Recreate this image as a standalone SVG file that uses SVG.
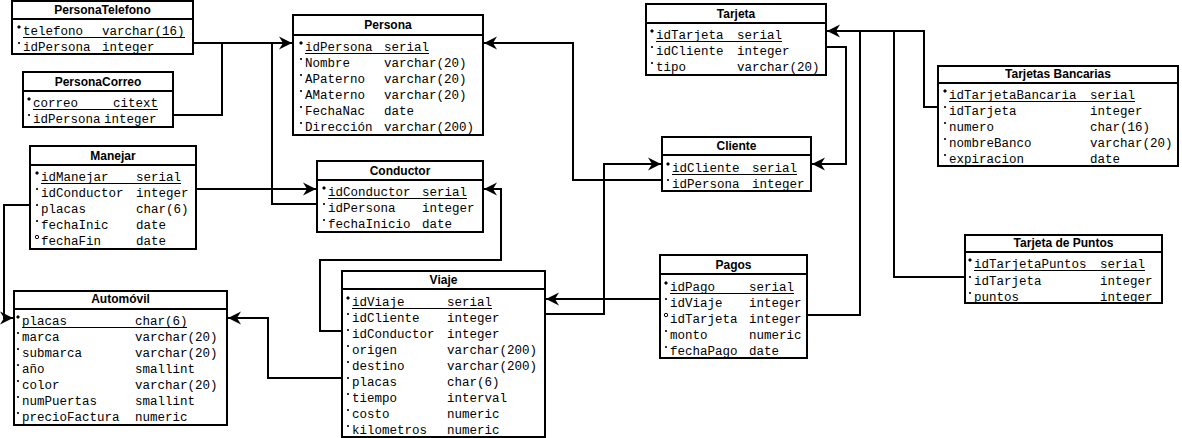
<svg xmlns="http://www.w3.org/2000/svg" width="1182" height="438" viewBox="0 0 1182 438">
  <style>
    .box { fill: #fff; stroke: #000; stroke-width: 2; }
    .sep { stroke: #000; stroke-width: 2; }
    .hd { font-family: "Liberation Sans", Arial, sans-serif; font-weight: bold; font-size: 12px; text-anchor: middle; fill: #000; }
    .f { font-family: "Liberation Mono", "Courier New", monospace; font-size: 12.5px; fill: #000; }
    .ul { stroke: #000; stroke-width: 1; }
    .conn path { fill: none; stroke: #000; stroke-width: 2; }
    .pk { fill: #000; }
    .nn { fill: #000; }
    .nl { fill: none; stroke: #000; stroke-width: 1; }
  </style>
  <defs>
    <marker id="arrow" viewBox="-14 -8 15 16" refX="0" refY="0" markerWidth="15" markerHeight="16" markerUnits="userSpaceOnUse" orient="auto">
      <path d="M0,0 L-13,-6.5 L-9,0 L-13,6.5 Z" fill="#000"/>
    </marker>
    <!-- field markers: primary key, not null, nullable -->
    <path id="mk-pk" d="M0,-2 L2,0 L0,2 L-2,0 Z" class="pk"/>
    <circle id="mk-nn" r="1.1" class="nn"/>
    <circle id="mk-nl" r="1.7" class="nl"/>
  </defs>

  <!-- relationships -->
  <g id="connectors" class="conn">
    <path d="M193,43 H292" marker-end="url(#arrow)"/>
    <path d="M173,115 H222 V43"/>
    <path d="M317,204 H272 V43"/>
    <path d="M662,180 H573 V43 H484" marker-end="url(#arrow)"/>
    <path d="M196,189 H316" marker-end="url(#arrow)"/>
    <path d="M342,331 H320 V260 H501 V189 H484" marker-end="url(#arrow)"/>
    <path d="M30,205 H4 V318 H13" marker-end="url(#arrow)"/>
    <path d="M342,378 H268 V318 H228" marker-end="url(#arrow)"/>
    <path d="M545,314 H604 V164 H661" marker-end="url(#arrow)"/>
    <path d="M660,299 H546" marker-end="url(#arrow)"/>
    <path d="M807,315 H860 V31 H827" marker-end="url(#arrow)"/>
    <path d="M826,47 H846 V164 H812" marker-end="url(#arrow)"/>
    <path d="M938,107 H924 V31 H860"/>
    <path d="M965,277 H894 V31"/>
  </g>

  <g id="PersonaTelefono">
    <rect class="box" x="12" y="1" width="181" height="53"/>
    <line class="sep" x1="12" y1="19" x2="193" y2="19"/>
    <text class="hd" x="102.5" y="14">PersonaTelefono</text>
    <use href="#mk-pk" x="19" y="27"/><text class="f" x="23" y="35">telefono</text><text class="f" x="102" y="35">varchar(16)</text>
    <line class="ul" x1="23" y1="37.5" x2="185" y2="37.5"/>
    <use href="#mk-nn" x="19" y="43"/><text class="f" x="23" y="51">idPersona</text><text class="f" x="102" y="51">integer</text>
  </g>

  <g id="PersonaCorreo">
    <rect class="box" x="23" y="72" width="150" height="55"/>
    <line class="sep" x1="23" y1="91" x2="173" y2="91"/>
    <text class="hd" x="98" y="86">PersonaCorreo</text>
    <use href="#mk-pk" x="29" y="99"/><text class="f" x="33" y="107">correo</text><text class="f" x="113" y="107">citext</text>
    <line class="ul" x1="33" y1="109.5" x2="158" y2="109.5"/>
    <use href="#mk-nn" x="29" y="115"/><text class="f" x="33" y="123">idPersona</text><text class="f" x="104" y="123">integer</text>
  </g>

  <g id="Persona">
    <rect class="box" x="293" y="15" width="190" height="120"/>
    <line class="sep" x1="293" y1="35" x2="483" y2="35"/>
    <text class="hd" x="388" y="29">Persona</text>
    <use href="#mk-pk" x="301" y="43"/><text class="f" x="305" y="51">idPersona</text><text class="f" x="384" y="51">serial</text>
    <line class="ul" x1="305" y1="53.5" x2="429" y2="53.5"/>
    <use href="#mk-nn" x="301" y="59"/><text class="f" x="305" y="67">Nombre</text><text class="f" x="384" y="67">varchar(20)</text>
    <use href="#mk-nn" x="301" y="75"/><text class="f" x="305" y="83">APaterno</text><text class="f" x="384" y="83">varchar(20)</text>
    <use href="#mk-nn" x="301" y="91"/><text class="f" x="305" y="99">AMaterno</text><text class="f" x="384" y="99">varchar(20)</text>
    <use href="#mk-nn" x="301" y="107"/><text class="f" x="305" y="115">FechaNac</text><text class="f" x="384" y="115">date</text>
    <use href="#mk-nn" x="301" y="123"/><text class="f" x="305" y="131">Dirección</text><text class="f" x="384" y="131">varchar(200)</text>
  </g>

  <g id="Manejar">
    <rect class="box" x="30" y="146" width="166" height="103"/>
    <line class="sep" x1="30" y1="165" x2="196" y2="165"/>
    <text class="hd" x="113" y="160">Manejar</text>
    <use href="#mk-pk" x="37" y="173"/><text class="f" x="41" y="181">idManejar</text><text class="f" x="136" y="181">serial</text>
    <line class="ul" x1="41" y1="183.5" x2="181" y2="183.5"/>
    <use href="#mk-nn" x="37" y="189"/><text class="f" x="41" y="197">idConductor</text><text class="f" x="136" y="197">integer</text>
    <use href="#mk-nn" x="37" y="205"/><text class="f" x="41" y="213">placas</text><text class="f" x="136" y="213">char(6)</text>
    <use href="#mk-nn" x="37" y="221"/><text class="f" x="41" y="229">fechaInic</text><text class="f" x="136" y="229">date</text>
    <use href="#mk-nl" x="37" y="237"/><text class="f" x="41" y="245">fechaFin</text><text class="f" x="136" y="245">date</text>
  </g>

  <g id="Conductor">
    <rect class="box" x="317" y="161" width="166" height="71"/>
    <line class="sep" x1="317" y1="180" x2="483" y2="180"/>
    <text class="hd" x="400" y="175">Conductor</text>
    <use href="#mk-pk" x="324" y="188"/><text class="f" x="328" y="196">idConductor</text><text class="f" x="422" y="196">serial</text>
    <line class="ul" x1="328" y1="198.5" x2="467" y2="198.5"/>
    <use href="#mk-nn" x="324" y="204"/><text class="f" x="328" y="212">idPersona</text><text class="f" x="422" y="212">integer</text>
    <use href="#mk-nn" x="324" y="220"/><text class="f" x="328" y="228">fechaInicio</text><text class="f" x="422" y="228">date</text>
  </g>

  <g id="Automovil">
    <rect class="box" x="14" y="291" width="213" height="134"/>
    <line class="sep" x1="14" y1="309" x2="227" y2="309"/>
    <text class="hd" x="120.5" y="303">Automóvil</text>
    <use href="#mk-pk" x="18" y="317"/><text class="f" x="22" y="325">placas</text><text class="f" x="135" y="325">char(6)</text>
    <line class="ul" x1="22" y1="327.5" x2="187" y2="327.5"/>
    <use href="#mk-nn" x="18" y="333"/><text class="f" x="22" y="341">marca</text><text class="f" x="135" y="341">varchar(20)</text>
    <use href="#mk-nn" x="18" y="349"/><text class="f" x="22" y="357">submarca</text><text class="f" x="135" y="357">varchar(20)</text>
    <use href="#mk-nn" x="18" y="365"/><text class="f" x="22" y="373">año</text><text class="f" x="135" y="373">smallint</text>
    <use href="#mk-nn" x="18" y="381"/><text class="f" x="22" y="389">color</text><text class="f" x="135" y="389">varchar(20)</text>
    <use href="#mk-nn" x="18" y="397"/><text class="f" x="22" y="405">numPuertas</text><text class="f" x="135" y="405">smallint</text>
    <use href="#mk-nn" x="18" y="413"/><text class="f" x="22" y="421">precioFactura</text><text class="f" x="135" y="421">numeric</text>
  </g>

  <g id="Viaje">
    <rect class="box" x="342" y="271" width="203" height="166"/>
    <line class="sep" x1="342" y1="289" x2="545" y2="289"/>
    <text class="hd" x="443.5" y="284">Viaje</text>
    <use href="#mk-pk" x="348" y="298"/><text class="f" x="352" y="306">idViaje</text><text class="f" x="447" y="306">serial</text>
    <line class="ul" x1="352" y1="308.5" x2="492" y2="308.5"/>
    <use href="#mk-nn" x="348" y="314"/><text class="f" x="352" y="322">idCliente</text><text class="f" x="447" y="322">integer</text>
    <use href="#mk-nn" x="348" y="330"/><text class="f" x="352" y="338">idConductor</text><text class="f" x="447" y="338">integer</text>
    <use href="#mk-nn" x="348" y="346"/><text class="f" x="352" y="354">origen</text><text class="f" x="447" y="354">varchar(200)</text>
    <use href="#mk-nn" x="348" y="362"/><text class="f" x="352" y="370">destino</text><text class="f" x="447" y="370">varchar(200)</text>
    <use href="#mk-nn" x="348" y="378"/><text class="f" x="352" y="386">placas</text><text class="f" x="447" y="386">char(6)</text>
    <use href="#mk-nn" x="348" y="394"/><text class="f" x="352" y="402">tiempo</text><text class="f" x="447" y="402">interval</text>
    <use href="#mk-nn" x="348" y="410"/><text class="f" x="352" y="418">costo</text><text class="f" x="447" y="418">numeric</text>
    <use href="#mk-nn" x="348" y="426"/><text class="f" x="352" y="434">kilometros</text><text class="f" x="447" y="434">numeric</text>
  </g>

  <g id="Tarjeta">
    <rect class="box" x="646" y="4" width="180" height="71"/>
    <line class="sep" x1="646" y1="23" x2="826" y2="23"/>
    <text class="hd" x="736" y="18">Tarjeta</text>
    <use href="#mk-pk" x="652" y="31"/><text class="f" x="656" y="39">idTarjeta</text><text class="f" x="737" y="39">serial</text>
    <line class="ul" x1="656" y1="41.5" x2="782" y2="41.5"/>
    <use href="#mk-nn" x="652" y="47"/><text class="f" x="656" y="55">idCliente</text><text class="f" x="737" y="55">integer</text>
    <use href="#mk-nn" x="652" y="63"/><text class="f" x="656" y="71">tipo</text><text class="f" x="737" y="71">varchar(20)</text>
  </g>

  <g id="Cliente">
    <rect class="box" x="662" y="137" width="149" height="54"/>
    <line class="sep" x1="662" y1="155" x2="811" y2="155"/>
    <text class="hd" x="736.5" y="150">Cliente</text>
    <use href="#mk-pk" x="668" y="164"/><text class="f" x="672" y="172">idCliente</text><text class="f" x="752" y="172">serial</text>
    <line class="ul" x1="672" y1="174.5" x2="797" y2="174.5"/>
    <use href="#mk-nn" x="668" y="180"/><text class="f" x="672" y="188">idPersona</text><text class="f" x="752" y="188">integer</text>
  </g>

  <g id="Pagos">
    <rect class="box" x="660" y="255" width="147" height="103"/>
    <line class="sep" x1="660" y1="274" x2="807" y2="274"/>
    <text class="hd" x="733.5" y="269">Pagos</text>
    <use href="#mk-pk" x="666" y="283"/><text class="f" x="670" y="291">idPago</text><text class="f" x="749" y="291">serial</text>
    <line class="ul" x1="670" y1="293.5" x2="794" y2="293.5"/>
    <use href="#mk-nn" x="666" y="299"/><text class="f" x="670" y="307">idViaje</text><text class="f" x="749" y="307">integer</text>
    <use href="#mk-nl" x="666" y="315"/><text class="f" x="670" y="323">idTarjeta</text><text class="f" x="749" y="323">integer</text>
    <use href="#mk-nn" x="666" y="331"/><text class="f" x="670" y="339">monto</text><text class="f" x="749" y="339">numeric</text>
    <use href="#mk-nn" x="666" y="347"/><text class="f" x="670" y="355">fechaPago</text><text class="f" x="749" y="355">date</text>
  </g>

  <g id="TarjetasBancarias">
    <rect class="box" x="938" y="66" width="240" height="100"/>
    <line class="sep" x1="938" y1="83" x2="1178" y2="83"/>
    <text class="hd" x="1058" y="78">Tarjetas Bancarias</text>
    <use href="#mk-pk" x="945" y="91"/><text class="f" x="949" y="99">idTarjetaBancaria</text><text class="f" x="1090" y="99">serial</text>
    <line class="ul" x1="949" y1="101.5" x2="1135" y2="101.5"/>
    <use href="#mk-nn" x="945" y="107"/><text class="f" x="949" y="115">idTarjeta</text><text class="f" x="1090" y="115">integer</text>
    <use href="#mk-nn" x="945" y="123"/><text class="f" x="949" y="131">numero</text><text class="f" x="1090" y="131">char(16)</text>
    <use href="#mk-nn" x="945" y="139"/><text class="f" x="949" y="147">nombreBanco</text><text class="f" x="1090" y="147">varchar(20)</text>
    <use href="#mk-nn" x="945" y="155"/><text class="f" x="949" y="163">expiracion</text><text class="f" x="1090" y="163">date</text>
  </g>

  <g id="TarjetaDePuntos">
    <rect class="box" x="965" y="235" width="197" height="68"/>
    <line class="sep" x1="965" y1="252" x2="1162" y2="252"/>
    <text class="hd" x="1063.5" y="247">Tarjeta de Puntos</text>
    <use href="#mk-pk" x="970" y="260"/><text class="f" x="974" y="268">idTarjetaPuntos</text><text class="f" x="1100" y="268">serial</text>
    <line class="ul" x1="974" y1="270.5" x2="1145" y2="270.5"/>
    <use href="#mk-nn" x="970" y="277"/><text class="f" x="974" y="285">idTarjeta</text><text class="f" x="1100" y="285">integer</text>
    <use href="#mk-nn" x="970" y="293"/><text class="f" x="974" y="301">puntos</text><text class="f" x="1100" y="301">integer</text>
  </g>
</svg>
